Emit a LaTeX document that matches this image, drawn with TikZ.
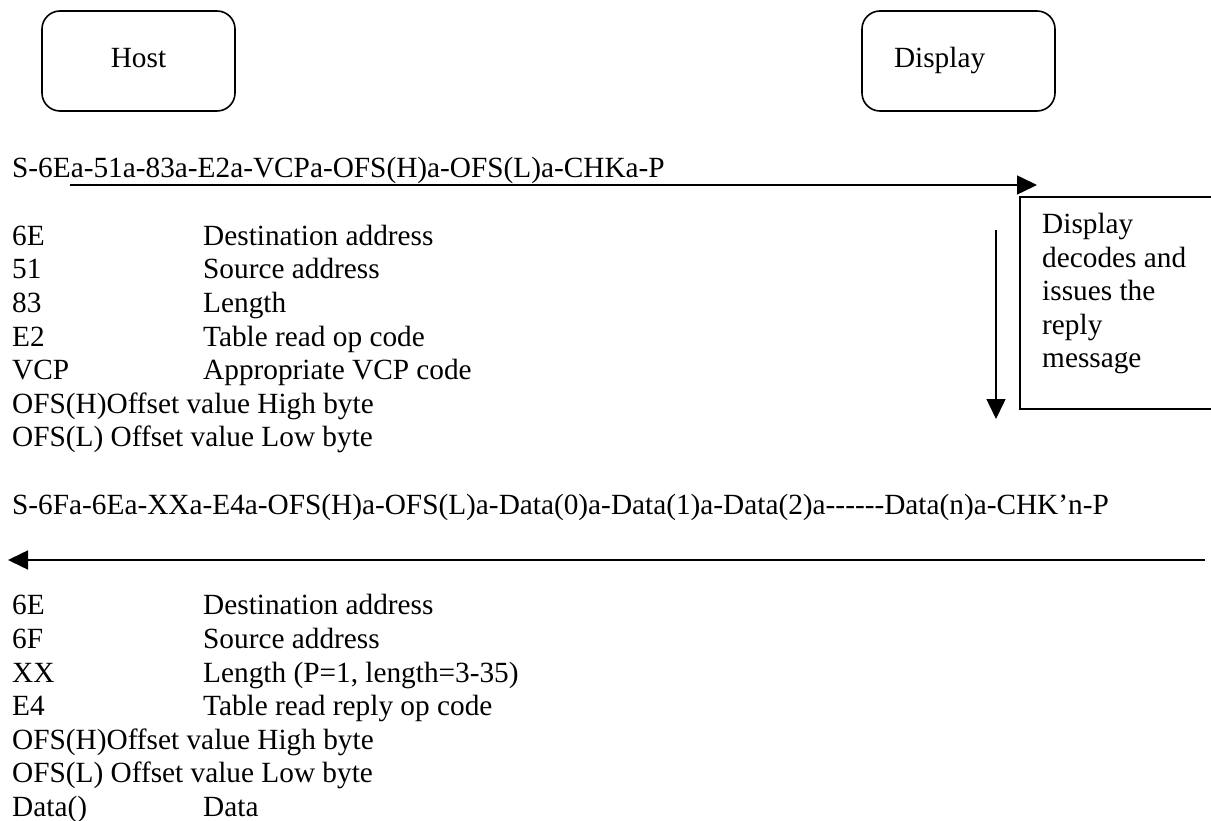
\documentclass[tikz,border=0pt]{standalone}
\usepackage{fontspec}
\setmainfont{Liberation Serif}
\usetikzlibrary{arrows.meta}
\begin{document}
\begin{tikzpicture}[x=1pt,y=-1pt,
  txt/.style={anchor=base west,inner sep=0pt,font=\fontsize{29.3}{33.6}\selectfont},
  roundbox/.style={draw,line width=1.6pt,rounded corners=18pt,minimum width=193pt,minimum height=100pt,
    inner ysep=0pt,text height=20pt,text depth=6pt,font=\fontsize{29.3}{33.6}\selectfont},
  frameline/.style={line width=1.6pt},
  flow/.style={line width=1.5pt,-{Triangle[length=20pt,width=19pt]}}]
\useasboundingbox (0,0) rectangle (1211,821);

% participants
\node[roundbox] (host) at (138.5,61) {Host};
\node[roundbox,text width=129pt,align=left,inner xsep=32pt] (display) at (958.5,61) {Display};

% request message
\node[txt] (msg1) at (12,178) {S-6Ea-51a-83a-E2a-VCPa-OFS(H)a-OFS(L)a-CHKa-P};
\coordinate (r1) at (70,185);
\coordinate (r2) at (1037,185);
\draw[flow] (r1) -- (r2);

% list 1
\node[txt] (a1) at (12,245.2) {6E};   \node[txt] (b1) at (203,245.2) {Destination address};
\node[txt] (a2) at (12,278.8) {51};   \node[txt] (b2) at (203,278.8) {Source address};
\node[txt] (a3) at (12,312.4) {83};   \node[txt] (b3) at (203,312.4) {Length};
\node[txt] (a4) at (12,346.0) {E2};   \node[txt] (b4) at (203,346.0) {Table read op code};
\node[txt] (a5) at (12,379.6) {VCP};  \node[txt] (b5) at (203,379.6) {Appropriate VCP code};
\node[txt] (a6) at (12,413.2) {OFS(H)Offset value High byte};
\node[txt] (a7) at (12,446.8) {OFS(L) Offset value Low byte};

% display decodes box (right side runs off the page)
\draw[frameline] (1215,197) -- (1020,197) -- (1020,409) -- (1215,409);
\node[txt,anchor=north west,align=left] (decode) at (1042,213) {Display\\decodes and\\issues the\\reply\\message};
\coordinate (d1) at (996,230);
\coordinate (d2) at (996,419);
\draw[flow] (d1) -- (d2);

% reply message
\node[txt] (msg2) at (12,514) {S-6Fa-6Ea-XXa-E4a-OFS(H)a-OFS(L)a-Data(0)a-Data(1)a-Data(2)a-{}-{}-{}-{}-{}-Data(n)a-CHK’n-P};
\coordinate (p1) at (1205,560);
\coordinate (p2) at (8,560);
\draw[flow] (p1) -- (p2);

% list 2
\node[txt] (c1) at (12,614.8) {6E};    \node[txt] (e1) at (203,614.8) {Destination address};
\node[txt] (c2) at (12,648.4) {6F};    \node[txt] (e2) at (203,648.4) {Source address};
\node[txt] (c3) at (12,682.0) {XX};    \node[txt] (e3) at (203,682.0) {Length (P=1, length=3-35)};
\node[txt] (c4) at (12,715.6) {E4};    \node[txt] (e4) at (203,715.6) {Table read reply op code};
\node[txt] (c5) at (12,749.2) {OFS(H)Offset value High byte};
\node[txt] (c6) at (12,782.8) {OFS(L) Offset value Low byte};
\node[txt] (c7) at (12,816.4) {Data()};  \node[txt] (e7) at (203,816.4) {Data};
\end{tikzpicture}
\end{document}
